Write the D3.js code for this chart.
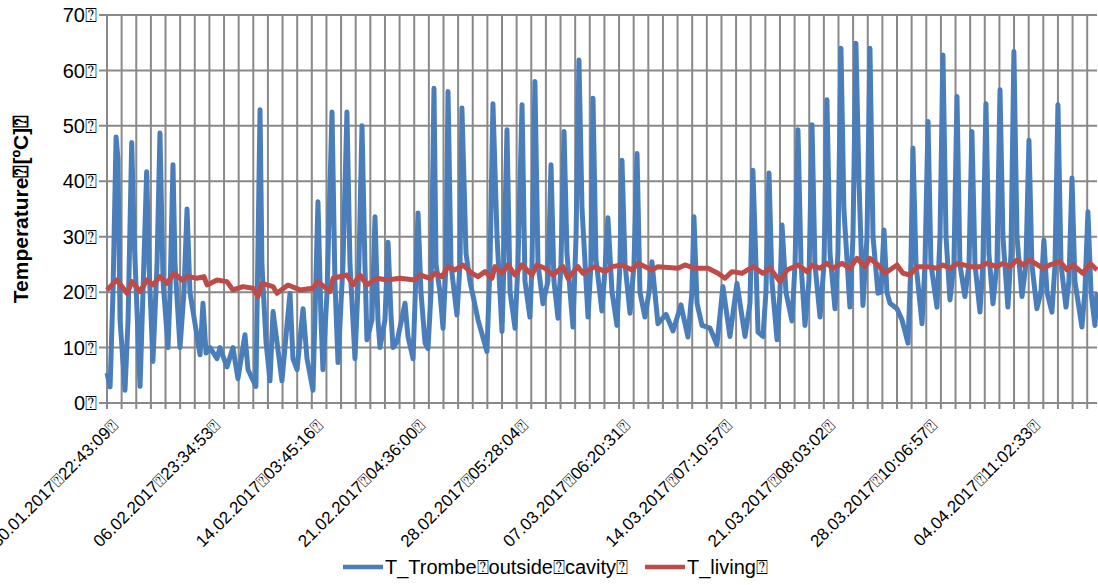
<!DOCTYPE html>
<html>
<head>
<meta charset="utf-8">
<script src="https://cdn.jsdelivr.net/npm/d3@7"></script>
<style>
  body { margin: 0; background: #fff; }
  text { font-family: "Liberation Sans", Arial, sans-serif; fill: #000; }
</style>
</head>
<body>
<div id="chart"></div>
<script>
// tofu box stands in for the unrenderable characters of the source
const BOX = "\u2370";

const dateLabels = [
  "30.01.2017" + BOX + "22:43:09" + BOX,
  "06.02.2017" + BOX + "23:34:53" + BOX,
  "14.02.2017" + BOX + "03:45:16" + BOX,
  "21.02.2017" + BOX + "04:36:00" + BOX,
  "28.02.2017" + BOX + "05:28:04" + BOX,
  "07.03.2017" + BOX + "06:20:31" + BOX,
  "14.03.2017" + BOX + "07:10:57" + BOX,
  "21.03.2017" + BOX + "08:03:02" + BOX,
  "28.03.2017" + BOX + "10:06:57" + BOX,
  "04.04.2017" + BOX + "11:02:33" + BOX
];
const yTicks = [0, 10, 20, 30, 40, 50, 60, 70];
const seriesNames = ["T_Trombe" + BOX + "outside" + BOX + "cavity" + BOX, "T_living" + BOX];

// days since first sample
const trombeDays = [0, 0.21, 0.41, 0.62, 0.75, 0.89, 1.23, 1.44, 1.69, 1.85, 2.26, 2.46, 2.71, 2.87, 3.14, 3.42, 3.62, 3.83,
  4.17, 4.31, 4.51, 4.65, 4.99, 5.26, 5.47, 5.67, 6.36, 6.56, 6.77, 7.04, 7.52, 7.72, 8.20, 8.61, 8.95, 9.43, 9.64,
  10.18, 10.46, 10.59, 10.87, 11.14, 11.35, 11.96, 12.30, 12.51, 12.71, 12.99, 13.40, 13.67, 14.08, 14.42, 14.63,
  14.76, 15.04, 15.38, 15.58, 15.79, 16.13, 16.40, 16.61, 16.95, 17.22, 17.43, 17.63, 17.77, 18.11, 18.32, 18.52,
  18.66, 19.00, 19.21, 19.41, 19.55, 19.82, 20.37, 20.57, 20.92, 21.26, 21.46, 21.74, 21.94, 22.15, 22.35, 22.49,
  22.76, 22.97, 23.17, 23.31, 23.51, 23.92, 24.13, 24.26, 24.54, 24.81, 25.36, 25.97, 26.18, 26.38, 26.66, 27.00,
  27.13, 27.34, 27.55, 27.89, 28.09, 28.37, 28.57, 28.91, 29.05, 29.25, 29.46, 29.80, 30.14, 30.35, 30.55, 30.83,
  31.03, 31.24, 31.44, 31.85, 32.06, 32.26, 32.47, 32.88, 33.08, 33.22, 33.42, 33.83, 34.04, 34.24, 34.52, 34.86,
  35.06, 35.20, 35.41, 35.75, 36.02, 36.23, 36.43, 36.77, 37.05, 37.25, 37.52, 37.66, 38.21, 38.69, 39.23, 39.71,
  39.98, 40.12, 40.33, 40.67, 41.22, 41.69, 42.10, 42.58, 43.06, 43.61, 43.95, 44.15, 44.36, 44.50, 44.84, 45.04,
  45.25, 45.45, 45.80, 46.00, 46.14, 46.41, 46.82, 47.03, 47.23, 47.44, 47.71, 47.98, 48.19, 48.39, 48.74, 49.01,
  49.21, 49.42, 49.76, 49.96, 50.17, 50.37, 50.78, 50.99, 51.19, 51.40, 51.67, 51.95, 52.15, 52.36, 52.70, 52.90,
  53.11, 53.31, 53.52, 54.00, 54.34, 54.75, 54.95, 55.09, 55.30, 55.71, 55.91, 56.12, 56.32, 56.73, 56.94, 57.14,
  57.35, 57.62, 57.89, 58.10, 58.30, 58.64, 58.92, 59.12, 59.33, 59.67, 59.87, 60.08, 60.28, 60.56, 60.83, 61.04,
  61.24, 61.58, 61.79, 61.99, 62.20, 62.54, 62.81, 63.02, 63.22, 63.56, 63.84, 64.04, 64.25, 64.59, 64.80, 65.00,
  65.21, 65.55, 65.75, 65.96, 66.16, 66.64, 66.84, 67.05, 67.26, 67.53, 67.67];
const trombeTemps = [5.4, 2.9, 20, 48, 44, 15, 2.3, 15, 47, 30, 3, 20, 41.7, 25, 7.5, 25, 48.7, 22,
  10, 20, 43, 25, 10, 20, 35, 20, 8.7, 18, 9, 10, 8, 10, 6.5, 10, 4.4, 12.3, 6,
  3, 52.9, 25, 11, 4, 16.5, 4, 14, 19.8, 8, 6, 17, 8, 2.3, 36.3, 15,
  6, 20, 52.5, 22, 7.3, 25, 52.5, 25, 8, 25, 50, 25, 11.4, 15, 33.6, 15,
  10, 15, 29, 16, 10, 11, 18, 12, 8, 34.3, 20, 10.8, 9.8, 20, 56.8, 25,
  20, 13.5, 25, 56.2, 25, 15.9, 25, 53.2, 27, 22, 15, 9.3, 25, 54, 30, 12.9,
  25, 49.3, 20, 13.5, 25, 53.8, 22, 15.5, 25, 58, 25, 17.9, 22, 43, 22, 15.3,
  25, 49, 27, 13.7, 30, 61.9, 35, 15.5, 25, 55, 26, 16.6, 24, 33.4, 20, 14,
  25, 43.8, 25, 16.2, 25, 45, 20, 15.5, 20, 25.5, 18, 14.3, 16, 13, 17.7, 11.9,
  20, 33.6, 18, 14, 13.5, 10.5, 21, 12, 21.6, 12, 18, 42, 25, 12.8, 12, 20,
  41.5, 22, 11.4, 20, 32.1, 20, 14.8, 25, 49.3, 25, 14, 22, 50.2, 25, 15.5, 25,
  54.7, 27, 17, 27, 64, 35, 17.3, 30, 64.9, 40, 17.6, 30, 64, 30, 19.8, 20,
  31.2, 20, 18, 17, 15, 10.8, 25, 46, 25, 14.3, 25, 50.8, 25, 17.3, 30, 62.8,
  30, 18.6, 25, 55.3, 25, 19.2, 25, 49, 25, 16.4, 25, 54, 27, 17.9, 25, 56.5,
  30, 17.3, 27, 63.4, 30, 19.2, 25, 47.4, 25, 17, 20, 29.4, 20, 16.4, 25, 53.8,
  25, 17.3, 22, 40.6, 22, 13.7, 20, 34.5, 20, 14, 20];

const livingDays = [0, 0.68, 1.37, 1.71, 2.26, 2.73, 3.14, 3.62, 4.10, 4.58, 5.13, 5.54, 6.15, 6.63, 6.84, 7.52, 8.20,
  8.61, 9.30, 9.98, 10.32, 10.59, 11.35, 11.62, 12.37, 13.19, 14.08, 14.42, 15.24, 15.45, 16.40, 16.81, 17.29,
  17.77, 18.45, 19.14, 20.03, 21.05, 21.39, 22.08, 22.42, 22.90, 23.31, 23.79, 24.33, 24.95, 25.36, 25.84, 26.31,
  26.52, 27.00, 27.41, 27.89, 28.37, 29.05, 29.39, 29.94, 30.48, 31.17, 31.51, 32.19, 32.53, 33.35, 34.04, 34.52,
  35.20, 35.88, 36.29, 37.25, 37.66, 39.03, 39.51, 40.19, 41.08, 41.76, 42.24, 42.72, 43.40, 44.15, 44.84, 45.32,
  46.00, 46.48, 47.23, 47.85, 48.19, 48.73, 49.21, 49.62, 50.24, 50.78, 51.26, 51.81, 52.15, 52.70, 53.18, 54.00,
  54.41, 54.89, 55.36, 56.05, 56.73, 57.14, 57.62, 58.17, 58.99, 59.67, 60.15, 60.83, 61.24, 61.72, 62.20, 62.61,
  63.09, 63.98, 64.45, 65.14, 65.62, 66.03, 66.71, 67.19, 67.67];
const livingTemps = [20.4, 22.2, 19.8, 21.9, 20.1, 22.2, 21.3, 22.8, 21.6, 23.4, 22.2, 22.8, 22.5, 22.8, 21.3, 22.2, 21.9,
  20.4, 21.0, 20.7, 19.2, 21.6, 21.0, 19.8, 21.3, 20.4, 20.7, 21.9, 20.1, 22.5, 23.1, 21.3, 23.1,
  21.3, 22.5, 22.2, 22.5, 22.2, 23.1, 22.5, 23.4, 22.8, 24.6, 24.0, 24.9, 23.4, 22.8, 23.7, 22.5,
  24.6, 23.4, 24.9, 23.1, 24.9, 23.1, 24.9, 24.3, 23.1, 24.6, 22.5, 24.6, 23.4, 24.6, 23.7, 24.6,
  24.9, 24.0, 25.2, 24.0, 24.6, 24.3, 24.9, 24.3, 24.3, 23.4, 22.5, 23.7, 23.4, 24.6, 23.4, 24.3,
  21.9, 24.0, 24.9, 23.7, 24.9, 24.3, 25.2, 24.3, 25.2, 24.3, 26.1, 24.6, 26.1, 24.9, 23.4, 24.9,
  23.4, 23.1, 24.6, 24.6, 24.3, 24.9, 24.3, 25.2, 24.6, 24.6, 25.2, 24.6, 25.2, 24.6, 25.8, 24.9,
  25.8, 24.3, 24.9, 25.5, 24.0, 24.9, 23.4, 25.2, 24.0];

const config = {
  width: 1098,
  height: 585,
  left: 107,
  right: 1097,
  top: 15,
  bottom: 403,
  lastDay: 67.67,
  labelEvery: 7,
  gridColor: "#898989",
  colors: ["#4a7ebb", "#be4b48"],
  lineWidth: 5
};

const svg = d3.select("#chart").append("svg")
  .attr("width", config.width)
  .attr("height", config.height);

const x = d3.scaleLinear().domain([0, config.lastDay]).range([config.left, config.right]);
const y = d3.scaleLinear().domain([0, 70]).range([config.bottom, config.top]);

// horizontal grid + ticks out to the left
svg.append("g").selectAll("line")
  .data(yTicks)
  .enter()
  .append("line")
  .attr("x1", config.left - 8)
  .attr("x2", config.right)
  .attr("y1", d => y(d))
  .attr("y2", d => y(d))
  .attr("stroke", config.gridColor)
  .attr("stroke-width", 2);

// one vertical line per day, hanging below the axis
const dayLines = d3.range(0, Math.floor(config.lastDay) + 1);
svg.append("g").selectAll("line")
  .data(dayLines)
  .enter()
  .append("line")
  .attr("x1", d => x(d))
  .attr("x2", d => x(d))
  .attr("y1", config.top)
  .attr("y2", config.bottom + 6)
  .attr("stroke", config.gridColor)
  .attr("stroke-width", 2);

svg.append("g").selectAll("text")
  .data(yTicks)
  .enter()
  .append("text")
  .attr("x", config.left - 10)
  .attr("y", d => y(d))
  .attr("dy", "0.36em")
  .attr("text-anchor", "end")
  .attr("font-size", 20)
  .text(d => d + BOX);

svg.append("g").selectAll("text")
  .data(dateLabels)
  .enter()
  .append("text")
  .attr("text-anchor", "end")
  .attr("font-size", 17)
  .attr("transform", (d, i) => `translate(${x(i * config.labelEvery) + 12},${config.bottom + 24}) rotate(-45)`)
  .text(d => d);

svg.append("text")
  .attr("transform", `translate(28,${(config.top + config.bottom) / 2}) rotate(-90)`)
  .attr("text-anchor", "middle")
  .attr("font-size", 21)
  .attr("font-weight", "bold")
  .text("Temperature" + BOX + "[\u00baC]" + BOX);

const line = d3.line()
  .x(d => x(d[0]))
  .y(d => y(d[1]))
  .curve(d3.curveLinear);

const trombe = trombeDays.map((d, i) => [d, trombeTemps[i]]);
const living = livingDays.map((d, i) => [d, livingTemps[i]]);

svg.append("path")
  .attr("d", line(trombe))
  .attr("fill", "none")
  .attr("stroke", config.colors[0])
  .attr("stroke-width", config.lineWidth)
  .attr("stroke-linejoin", "round");

svg.append("path")
  .attr("d", line(living))
  .attr("fill", "none")
  .attr("stroke", config.colors[1])
  .attr("stroke-width", config.lineWidth)
  .attr("stroke-linejoin", "round");

// legend
const legendX = [343, 645];
const legend = svg.append("g").selectAll("g")
  .data(seriesNames)
  .enter()
  .append("g")
  .attr("transform", (d, i) => `translate(${legendX[i]},567)`);

legend.append("line")
  .attr("x1", 0)
  .attr("x2", 40)
  .attr("stroke", (d, i) => config.colors[i])
  .attr("stroke-width", 4.5);

legend.append("text")
  .attr("x", 42)
  .attr("dy", "0.36em")
  .attr("font-size", 20)
  .text(d => d);
</script>
</body>
</html>
